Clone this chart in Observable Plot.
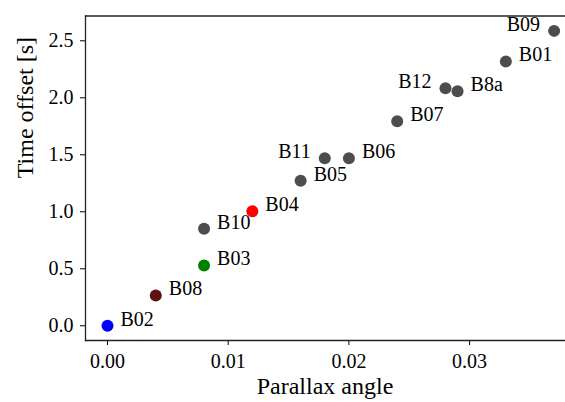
<!DOCTYPE html>
<html>
<head>
<meta charset="utf-8">
<script src="https://cdn.jsdelivr.net/npm/d3@7"></script>
<script src="https://cdn.jsdelivr.net/npm/@observablehq/plot@0.6"></script>
<style>
  html, body { margin: 0; padding: 0; background: #fff; }
  #chart svg { display: block; }
  #chart svg text { font-family: "Liberation Serif", "Times New Roman", serif; }
</style>
</head>
<body>
<div id="chart"></div>
<script>
const bands    = ["B02", "B08", "B03", "B10", "B04", "B05", "B11", "B06", "B07", "B12", "B8a", "B01", "B09"];
const parallax = [0.000, 0.004, 0.008, 0.008, 0.012, 0.016, 0.018, 0.020, 0.024, 0.028, 0.029, 0.033, 0.037];
const offsets  = [0.000, 0.266, 0.529, 0.851, 1.005, 1.272, 1.470, 1.470, 1.795, 2.084, 2.058, 2.318, 2.587];
const pointColors = ["#0000ff", "#5e1212", "#008000", "#4d4d4d", "#ff0000", "#4d4d4d", "#4d4d4d", "#4d4d4d", "#4d4d4d", "#4d4d4d", "#4d4d4d", "#4d4d4d", "#4d4d4d"];
const leftLabeled = ["B12", "B11", "B09"];
const xTicks = [0, 0.01, 0.02, 0.03];
const yTicks = [0, 0.5, 1.0, 1.5, 2.0, 2.5];
const xTitle = "Parallax angle";
const yTitle = "Time offset [s]";

const data = bands.map((b, i) => ({band: b, x: parallax[i], y: offsets[i], color: pointColors[i]}));
const rightData = data.filter(d => !leftLabeled.includes(d.band));
const leftData = data.filter(d => leftLabeled.includes(d.band));

const chart = Plot.plot({
  width: 565,
  height: 402,
  marginLeft: 85,
  marginRight: 1,
  marginTop: 15.5,
  marginBottom: 62,
  style: {fontFamily: "Liberation Serif, serif", background: "#fff", color: "#000"},
  x: {domain: [-0.001823, 0.03786], ticks: xTicks, tickFormat: d3.format(".2f")},
  y: {domain: [-0.129, 2.7175], ticks: yTicks, tickFormat: d3.format(".1f")},
  color: {type: "identity"},
  marks: [
    Plot.axisX({ticks: xTicks, tickFormat: d3.format(".2f"), tickSize: 5, tickPadding: 8, fontSize: 20, label: null, stroke: "#000"}),
    Plot.axisY({ticks: yTicks, tickFormat: d3.format(".1f"), tickSize: 5, tickPadding: 7, fontSize: 20, label: null, stroke: "#000"}),
    Plot.frame({anchor: "left", stroke: "#222", strokeWidth: 1.3}),
    Plot.frame({anchor: "bottom", stroke: "#222", strokeWidth: 1.3}),
    Plot.frame({anchor: "top", stroke: "#222", strokeWidth: 1.3}),
    Plot.dot(data, {x: "x", y: "y", fill: "color", r: 6, stroke: null}),
    Plot.text(rightData, {x: "x", y: "y", text: "band", textAnchor: "start", dx: 13, dy: -6.5, fontSize: 20, fill: "#000"}),
    Plot.text(leftData, {x: "x", y: "y", text: "band", textAnchor: "end", dx: -14, dy: -6.5, fontSize: 20, fill: "#000"}),
    Plot.text([xTitle], {frameAnchor: "bottom", dy: 53, fontSize: 24, fill: "#000"}),
    Plot.text([yTitle], {frameAnchor: "left", rotate: -90, dx: -60, fontSize: 24, fill: "#000"})
  ]
});
document.getElementById("chart").appendChild(chart);
</script>
</body>
</html>
